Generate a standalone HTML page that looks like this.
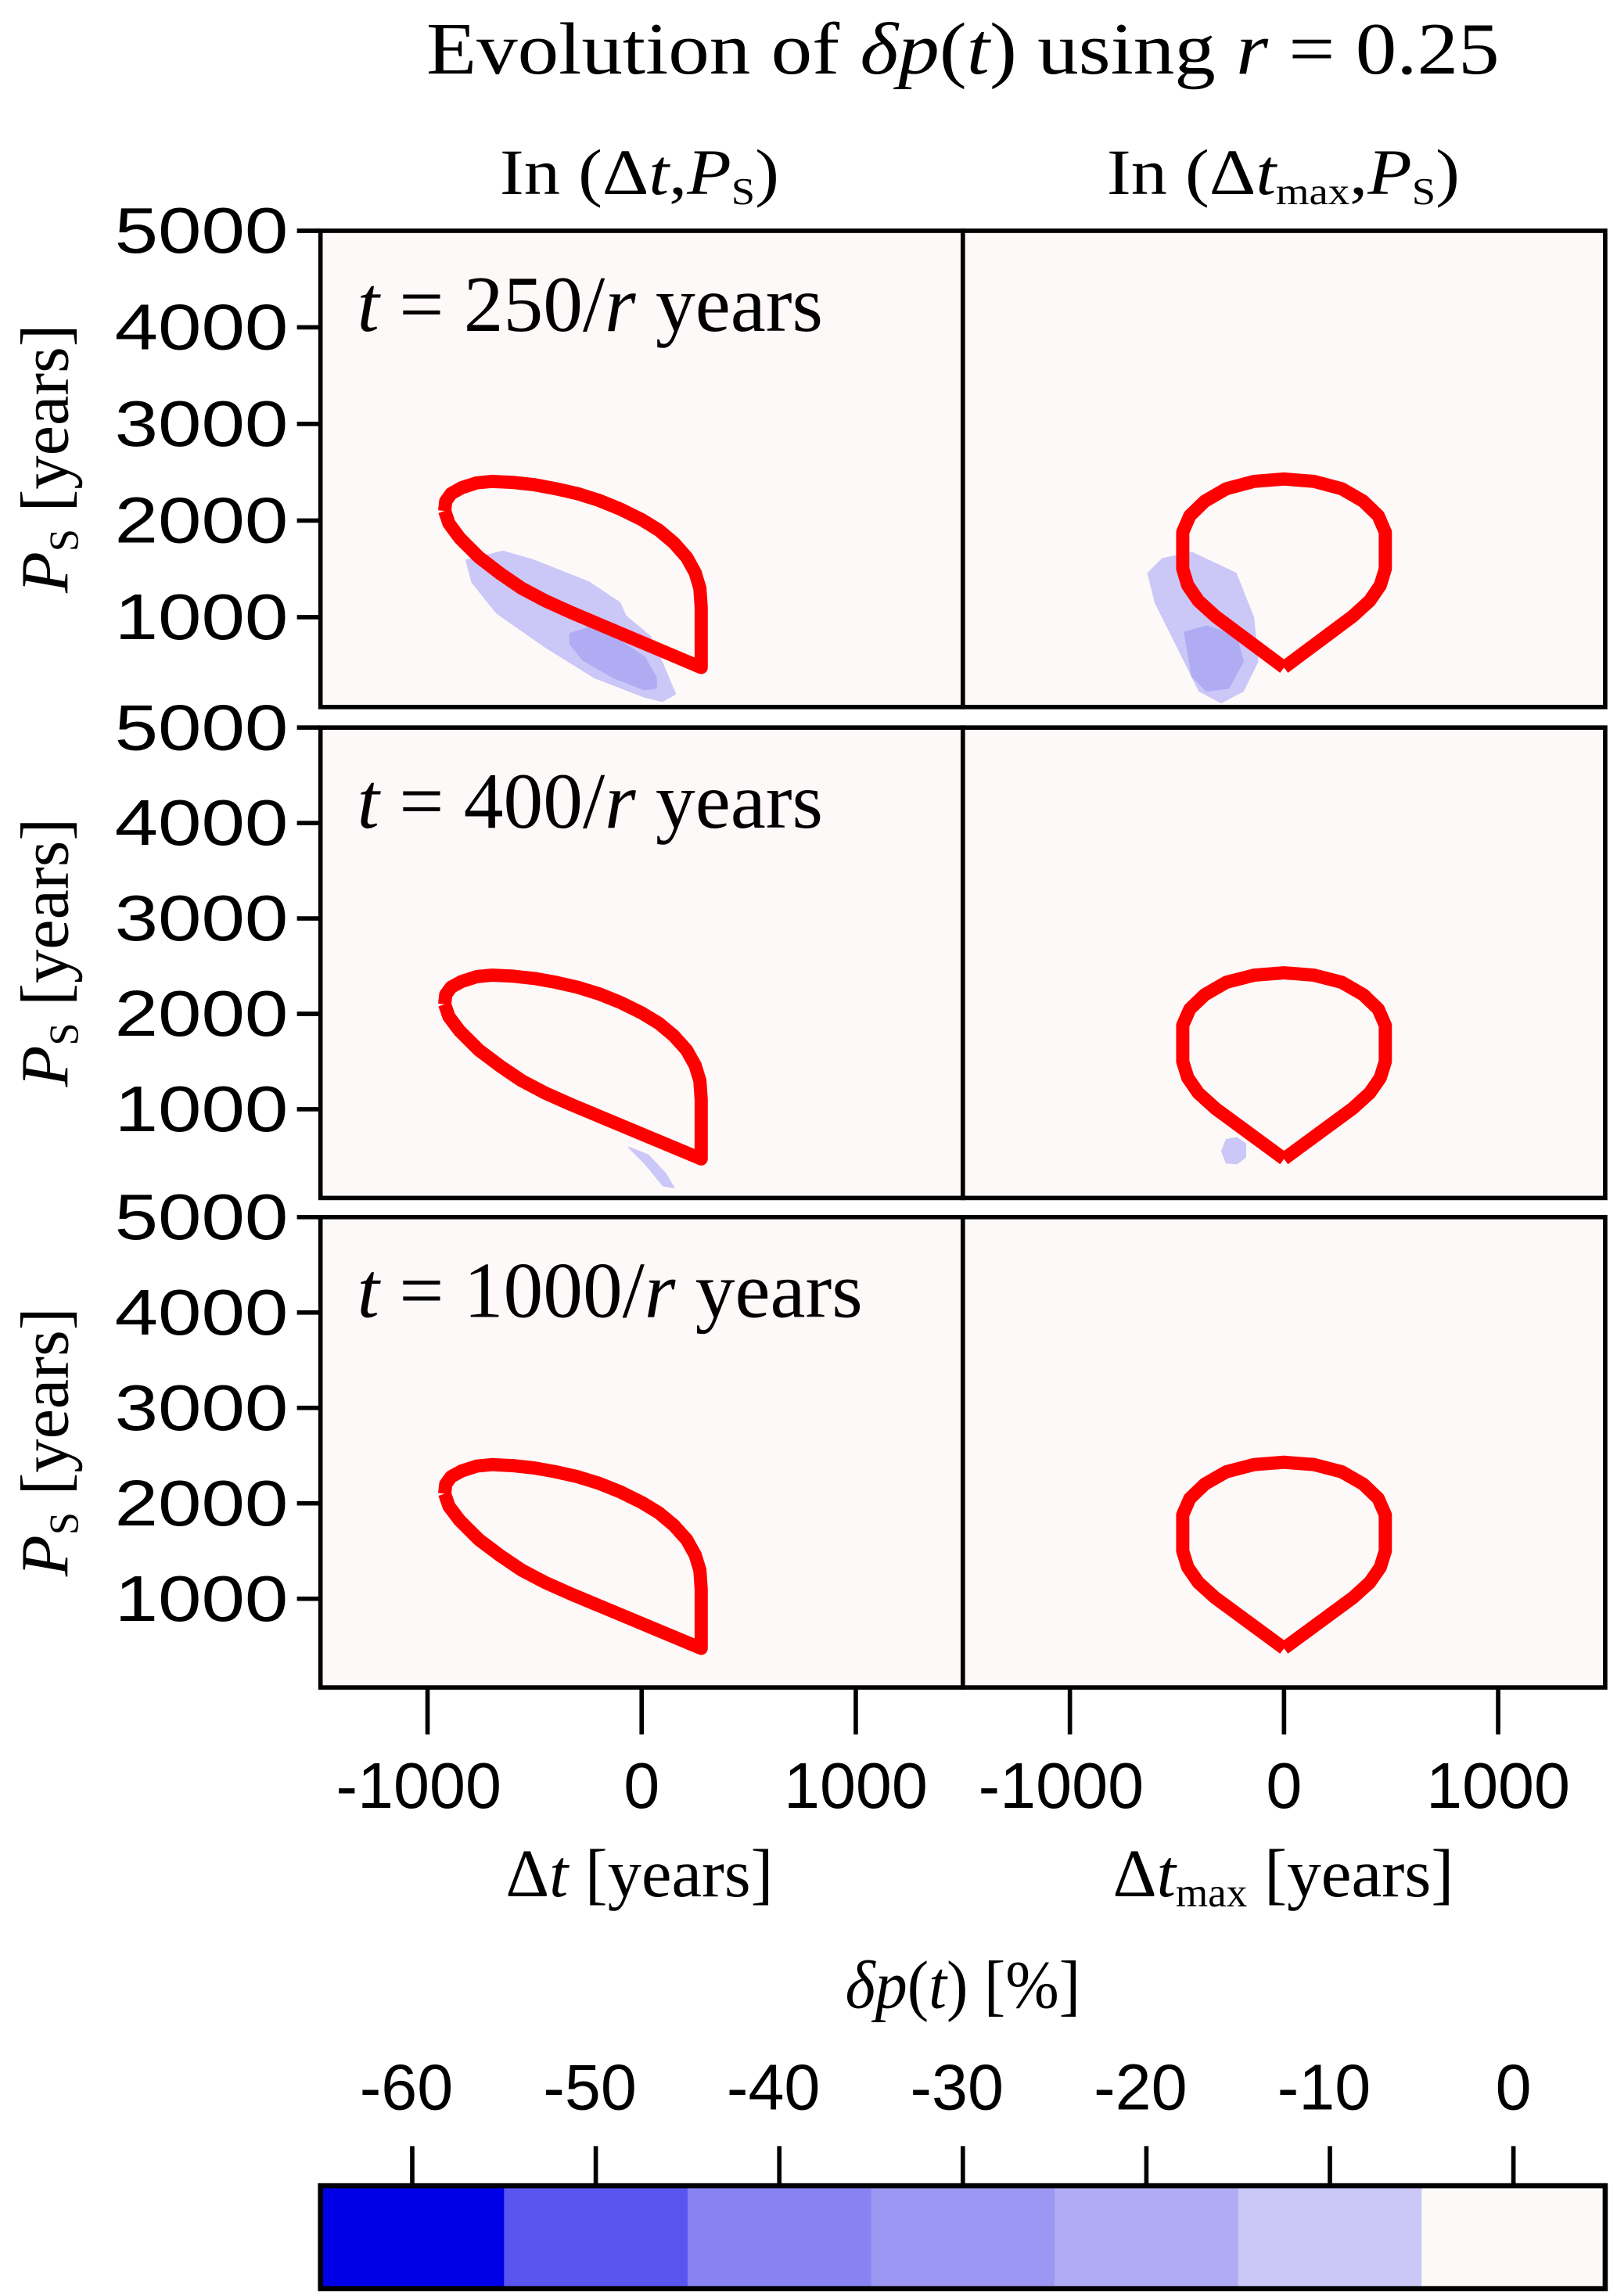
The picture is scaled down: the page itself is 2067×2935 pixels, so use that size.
<!DOCTYPE html>
<html><head><meta charset="utf-8"><style>
html,body{margin:0;padding:0;background:#fff;}
svg{display:block;}
.sans{font-family:"Liberation Sans",sans-serif;}
.serif{font-family:"Liberation Serif",serif;}
</style></head><body>
<svg id="fig" width="2067" height="2935" viewBox="0 0 1100 1562" xmlns="http://www.w3.org/2000/svg">
<rect width="1100" height="1562" fill="#ffffff"/>
<text class="serif" x="655" y="50" font-size="50" text-anchor="middle" textLength="730" lengthAdjust="spacingAndGlyphs">Evolution of <tspan font-style="italic">δp</tspan>(<tspan font-style="italic">t</tspan>) using <tspan font-style="italic">r</tspan> = 0.25</text>
<text class="serif" x="435" y="132" font-size="44" text-anchor="middle" textLength="190" lengthAdjust="spacingAndGlyphs">In (Δ<tspan font-style="italic">t</tspan>,<tspan font-style="italic">P</tspan><tspan font-size="26" dy="7">S</tspan><tspan dy="-7">)</tspan></text>
<text class="serif" x="873" y="132" font-size="44" text-anchor="middle" textLength="240" lengthAdjust="spacingAndGlyphs">In (Δ<tspan font-style="italic">t</tspan><tspan font-size="26" dy="7">max</tspan><tspan dy="-7">,</tspan><tspan font-style="italic">P</tspan><tspan font-size="26" dy="7">S</tspan><tspan dy="-7">)</tspan></text>
<g id="panels"></g>
<g id="cbar"></g>
</svg>
<script>
const NS="http://www.w3.org/2000/svg";
// axis data
const yTicks=[1000,2000,3000,4000,5000];
const xTicks=[-1000,0,1000];
const xDomain=[-1500,1500];
const yDomain=[70,5000];
const timeLabels=["250","400","1000"];
// red boundary curves (Δt, P_S)
const leftCurveDt=[-920,-915,-890,-840,-770,-700,-600,-500,-400,-300,-200,-100,0,80,150,210,250,272,278,278,-330,-450,-560,-660,-760,-850,-900,-920];
const leftCurveP=[2100,2200,2280,2340,2390,2405,2395,2370,2330,2280,2210,2120,2010,1900,1770,1620,1460,1300,1100,480,1050,1170,1300,1450,1620,1820,1970,2100];
const rightCurveDt=[0,-321,-400,-450,-473,-473,-440,-370,-270,-140,0,140,270,370,440,473,473,450,400,321,0];
const rightCurveP=[480,1010,1170,1330,1500,1880,2050,2200,2330,2405,2430,2405,2330,2200,2050,1880,1500,1330,1170,1010,480];
// blue contour regions
const blobRow=[0,0,0,0,1,1];
const blobCol=[0,0,1,1,0,1];
const blobLevel=[5,4,5,4,5,5];
const blobDt=[
 [-819,-648,-505,-246,-102,-75,41,96,157,96,14,-218,-450,-676,-792],
 [-334,-246,-130,14,68,68,14,-130,-273,-334],
 [-567,-430,-225,-143,-123,-191,-293,-396,-498,-601,-635],
 [-464,-362,-225,-191,-259,-362,-430],
 [-60,30,110,150,100,20],
 [-270,-220,-180,-180,-220,-270,-290]
];
const blobP=[
 [1590,1682,1590,1362,1149,1012,799,525,205,130,175,373,693,1043,1362],
 [830,890,799,586,373,266,251,373,556,723],
 [1606,1667,1454,997,541,237,115,237,693,1149,1454],
 [845,906,814,541,267,237,389],
 [600,520,330,180,200,420],
 [680,700,640,500,430,440,560]
];
// colorbar
const cbTicks=[-60,-50,-40,-30,-20,-10,0];
const cbColors=["#0000e8","#5a55f1","#8883f3","#9b97f2","#b0acf4","#cbc7f7","#fdf9f8"];
const cbEdges=[-65,-55,-45,-35,-25,-15,-5,5];

const colX=[218,655], colW=437;
const rowY=[157,495,828], rowH=[324,320,320];
function sx(c,v){return colX[c]+(v-xDomain[0])/(xDomain[1]-xDomain[0])*colW;}
function sy(r,v){return rowY[r]+rowH[r]-(v-yDomain[0])/(yDomain[1]-yDomain[0])*rowH[r];}
function mk(tag,attrs,parent){const e=document.createElementNS(NS,tag);for(const k in attrs)e.setAttribute(k,attrs[k]);parent.appendChild(e);return e;}
const P=document.getElementById('panels');
function pts(c,r,dts,ps){return dts.map((d,i)=>sx(c,d).toFixed(1)+","+sy(r,ps[i]).toFixed(1)).join(" ");}
for(let r=0;r<3;r++){
 for(let c=0;c<2;c++){
  const bg=mk('rect',{x:colX[c],y:rowY[r],width:colW,height:rowH[r],fill:'#fdf9f8'},P);
  
  
  for(let b=0;b<blobRow.length;b++){
   if(blobRow[b]!==r||blobCol[b]!==c)continue;
   const pg=mk('polygon',{points:pts(c,r,blobDt[b],blobP[b]),fill:cbColors[blobLevel[b]],'stroke':cbColors[blobLevel[b]],'stroke-width':1,'stroke-linejoin':'round'},P);
   
   
  }
  const dts=c===0?leftCurveDt:rightCurveDt, ps=c===0?leftCurveP:rightCurveP;
  const pl=mk('polyline',{points:pts(c,r,dts,ps),fill:'none',stroke:'#ff0000','stroke-width':9,'stroke-linejoin':'round'},P);
  
  
  const fr=mk('rect',{x:colX[c],y:rowY[r],width:colW,height:rowH[r],fill:'none',stroke:'#000','stroke-width':3},P);
  
  
  if(c===0){
   yTicks.forEach(t=>{
    const y=sy(r,t);
    const tk=mk('line',{x1:202,x2:218,y1:y,y2:y,stroke:'#000','stroke-width':3},P);
    
    
    const tl=mk('text',{x:196,y:y+15,'font-size':44,'text-anchor':'end','class':'sans',textLength:118,lengthAdjust:'spacingAndGlyphs'},P);
    tl.textContent=t;
    
    
   });
   const yl=mk('text',{x:0,y:0,'font-size':46,'text-anchor':'middle','class':'serif',transform:`translate(46,${rowY[r]+rowH[r]/2-7}) rotate(-90)`},P);
   yl.innerHTML='<tspan font-style="italic">P</tspan><tspan font-size="28" dy="7">S</tspan><tspan dy="-7"> [years]</tspan>';
   
   
   const an=mk('text',{x:243,y:rowY[r]+68,'font-size':54,'class':'serif'},P);
   an.innerHTML='<tspan font-style="italic">t</tspan> = '+timeLabels[r]+'/<tspan font-style="italic">r</tspan> years';
   
   
  }
  if(r===2){
   xTicks.forEach(t=>{
    const x=sx(c,t);
    const tk=mk('line',{x1:x,x2:x,y1:1148,y2:1180,stroke:'#000','stroke-width':3},P);
    
    
    const tl=mk('text',{x:x-(t<0?6:0),y:1230,'font-size':44,'text-anchor':'middle','class':'sans'},P);
    tl.textContent=t;
    
    
   });
  }
 }
}
const xl1=mk('text',{x:435,y:1290,'font-size':46,'text-anchor':'middle','class':'serif',textLength:182,lengthAdjust:'spacingAndGlyphs'},P);
xl1.innerHTML='Δ<tspan font-style="italic">t</tspan> [years]';


const xl2=mk('text',{x:873,y:1290,'font-size':46,'text-anchor':'middle','class':'serif',textLength:232,lengthAdjust:'spacingAndGlyphs'},P);
xl2.innerHTML='Δ<tspan font-style="italic">t</tspan><tspan font-size="28" dy="7">max</tspan><tspan dy="-7"> [years]</tspan>';



const C=document.getElementById('cbar');
const cbX0=218,cbW=874,cbY=1487,cbH=70;
function cx(v){return cbX0+(v-cbEdges[0])/(cbEdges[cbEdges.length-1]-cbEdges[0])*cbW;}
cbColors.forEach((col,i)=>{
 const s=mk('rect',{x:cx(cbEdges[i]),y:cbY,width:cx(cbEdges[i+1])-cx(cbEdges[i])+0.5,height:cbH,fill:col},C);
 
 
});
const cf=mk('rect',{x:cbX0,y:cbY,width:cbW,height:cbH,fill:'none',stroke:'#000','stroke-width':3.5},C);


cbTicks.forEach(t=>{
 const x=cx(t);
 const tk=mk('line',{x1:x,x2:x,y1:1460,y2:1487,stroke:'#000','stroke-width':3},C);
 
 
 const tl=mk('text',{x:x-(t<0?4:0),y:1435,'font-size':44,'text-anchor':'middle','class':'sans'},C);
 tl.textContent=t;
 
 
});
const ct=mk('text',{x:655,y:1366,'font-size':46,'text-anchor':'middle','class':'serif',textLength:160,lengthAdjust:'spacingAndGlyphs'},C);
ct.innerHTML='<tspan font-style="italic">δp</tspan>(<tspan font-style="italic">t</tspan>) [%]';


</script>
</body></html>
